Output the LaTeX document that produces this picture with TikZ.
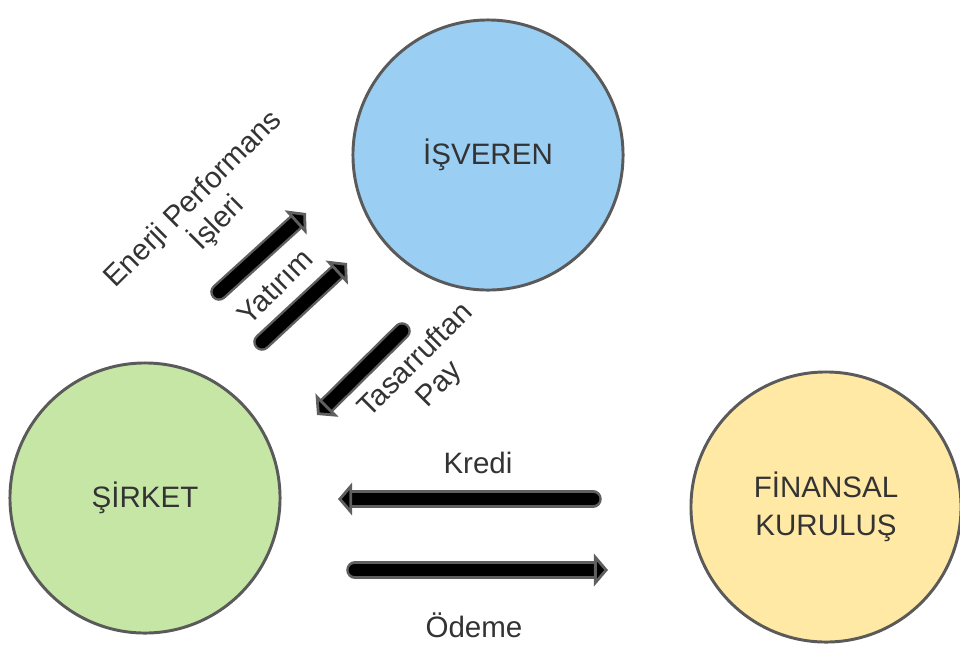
\documentclass[tikz,border=0pt]{standalone}
\usepackage{fontspec}
\setmainfont{Liberation Sans}
\usetikzlibrary{arrows.meta}

\definecolor{bluefill}{RGB}{154,207,243}
\definecolor{greenfill}{RGB}{198,230,166}
\definecolor{yellowfill}{RGB}{255,233,164}
\definecolor{rim}{RGB}{90,90,90}
\definecolor{txt}{RGB}{51,51,51}
\definecolor{arrgray}{RGB}{95,95,95}

\begin{document}
\begin{tikzpicture}[x=0.025cm, y=-0.025cm,
	main/.style = {draw=rim, line width=2.1pt, circle, minimum size=6.75cm, inner sep=0pt, text=txt, font=\fontsize{21}{27}\selectfont, align=center},
	lbl/.style = {text=txt, font=\fontsize{21}{24}\selectfont, align=center, inner sep=0pt},
	flow/.style = {black, line width=9pt, line cap=round,
		-{Triangle[length=10pt, width=23pt, line width=2pt, color=arrgray, fill=black]},
		preaction={draw=arrgray, line width=12.5pt, line cap=round, shorten >=9pt, -}}]
	\useasboundingbox (0,0) rectangle (960,646);
	\node[main, fill=bluefill] (isv) at (488,155) {İŞVEREN};
	\node[main, fill=greenfill] (sir) at (145,498) {ŞİRKET};
	\node[main, fill=yellowfill] (fin) at (826,507) {FİNANSAL\\KURULUŞ};
	\coordinate (e1) at (219,292);
	\coordinate (e2) at (306,213);
	\coordinate (y1) at (262,342);
	\coordinate (y2) at (347,263);
	\coordinate (t1) at (402,331);
	\coordinate (t2) at (317,415);
	\coordinate (k1) at (593,499);
	\coordinate (k2) at (338,499);
	\coordinate (o1) at (355,570);
	\coordinate (o2) at (608,570);
	\draw[flow] (e1) -- (e2);
	\draw[flow] (y1) -- (y2);
	\draw[flow] (t1) -- (t2);
	\draw[flow] (k1) -- (k2);
	\draw[flow] (o1) -- (o2);
	\node[lbl, rotate=45] (enj) at (206,212) {Enerji Performans\\İşleri};
	\node[lbl, rotate=45] (yat) at (275,287) {Yatırım};
	\node[lbl, rotate=45] (tas) at (428,373) {Tasarruftan\\Pay};
	\node[lbl] (kre) at (478,463) {Kredi};
	\node[lbl] (ode) at (474,625) {Ödeme};
\end{tikzpicture}
\end{document}
